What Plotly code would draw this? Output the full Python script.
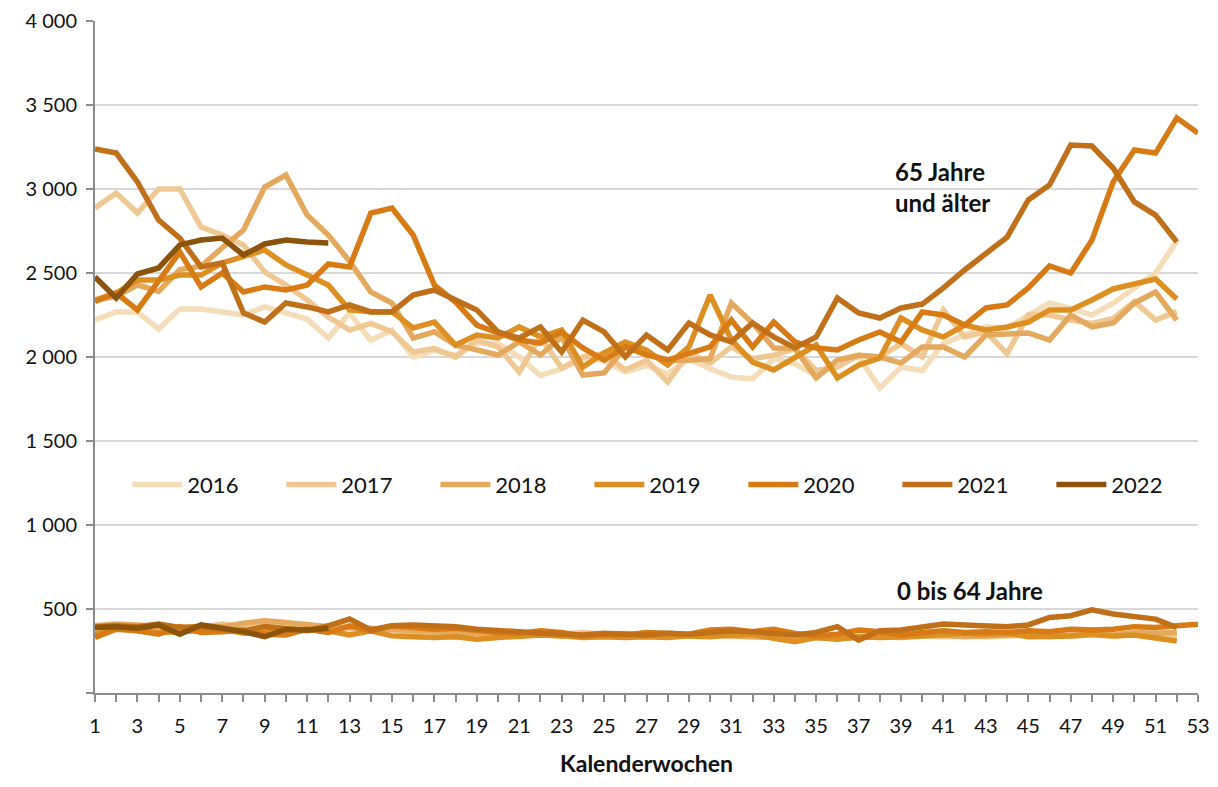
import plotly.graph_objects as go

weeks = list(range(1, 54))
years = ["2016", "2017", "2018", "2019", "2020", "2021", "2022"]
colors = ["#F5DDB8", "#F0C894", "#E5A95E", "#DE8F22", "#D97B14", "#C07018", "#8B530C"]

# 65 Jahre und älter
old_2016 = [2220, 2268, 2268, 2167, 2286, 2286, 2268, 2250, 2298, 2262, 2226, 2113, 2262, 2100, 2160, 2000, 2040, 2010, 2083, 2080, 2000, 1890, 1930, 1990, 1980, 1910, 1950, 1900, 1990, 1930, 1880, 1870, 1990, 1960, 1890, 1980, 2000, 1815, 1940, 1920, 2080, 2130, 2180, 2170, 2250, 2320, 2290, 2250, 2320, 2410, 2500, 2690]
old_2017 = [2887, 2976, 2857, 3000, 3000, 2774, 2726, 2667, 2506, 2428, 2339, 2238, 2160, 2200, 2150, 2030, 2050, 2000, 2100, 2060, 1911, 2120, 1934, 2000, 2020, 1923, 1980, 1851, 2024, 1964, 2060, 1990, 2010, 2050, 1920, 1940, 2010, 2000, 2080, 2000, 2280, 2120, 2150, 2020, 2250, 2250, 2220, 2200, 2230, 2330, 2220, 2270]
old_2018 = [2340, 2360, 2430, 2390, 2520, 2540, 2650, 2756, 3012, 3083, 2845, 2726, 2570, 2387, 2321, 2113, 2150, 2070, 2042, 2012, 2090, 2012, 2119, 1893, 1905, 2060, 2020, 1980, 1980, 1990, 2321, 2202, 2054, 2050, 1875, 1982, 2010, 2000, 1964, 2060, 2060, 2000, 2131, 2140, 2143, 2101, 2250, 2179, 2202, 2321, 2387, 2220]
old_2019 = [2339, 2380, 2458, 2458, 2488, 2488, 2560, 2595, 2637, 2548, 2488, 2428, 2280, 2270, 2270, 2173, 2208, 2071, 2131, 2113, 2179, 2120, 2160, 1940, 2024, 2089, 2040, 1952, 2060, 2369, 2101, 1970, 1923, 1994, 2071, 1875, 1952, 1994, 2232, 2161, 2119, 2190, 2161, 2179, 2208, 2280, 2280, 2339, 2405, 2435, 2464, 2345]
old_2020 = [2330, 2381, 2280, 2458, 2625, 2417, 2500, 2387, 2417, 2399, 2428, 2554, 2536, 2857, 2887, 2726, 2428, 2327, 2190, 2143, 2101, 2083, 2149, 2054, 1982, 2060, 2012, 1982, 2024, 2060, 2220, 2060, 2208, 2089, 2054, 2042, 2101, 2149, 2089, 2268, 2250, 2190, 2292, 2310, 2411, 2542, 2500, 2696, 3042, 3232, 3214, 3423, 3333]
old_2021 = [3238, 3214, 3042, 2815, 2708, 2536, 2560, 2262, 2208, 2321, 2298, 2268, 2310, 2268, 2268, 2369, 2399, 2339, 2280, 2149, 2113, 2179, 2030, 2220, 2149, 2000, 2131, 2042, 2202, 2131, 2090, 2202, 2120, 2054, 2119, 2351, 2262, 2232, 2292, 2315, 2411, 2518, 2619, 2714, 2935, 3024, 3262, 3256, 3125, 2923, 2845, 2685]
old_2022 = [2476, 2351, 2494, 2530, 2667, 2696, 2708, 2607, 2673, 2696, 2685, 2679]

# 0 bis 64 Jahre
young_2016 = [370, 385, 390, 380, 395, 380, 375, 385, 370, 380, 375, 370, 380, 375, 370, 365, 360, 360, 355, 350, 355, 350, 345, 350, 345, 345, 340, 345, 340, 345, 340, 345, 340, 335, 340, 335, 340, 345, 340, 345, 340, 345, 350, 345, 350, 345, 340, 345, 350, 355, 360, 350]
young_2017 = [395, 400, 390, 395, 370, 390, 410, 390, 400, 385, 390, 380, 390, 385, 370, 360, 365, 360, 355, 360, 350, 355, 350, 360, 350, 355, 345, 350, 345, 350, 345, 340, 345, 335, 340, 345, 335, 340, 345, 340, 335, 340, 335, 340, 345, 335, 340, 345, 340, 350, 345, 340]
young_2018 = [400, 410, 405, 395, 385, 400, 395, 415, 430, 420, 405, 395, 390, 385, 380, 375, 365, 360, 355, 350, 345, 350, 340, 345, 350, 340, 345, 335, 340, 345, 340, 335, 330, 335, 330, 325, 330, 335, 330, 340, 345, 335, 340, 345, 350, 340, 345, 350, 345, 360, 355, 360]
young_2019 = [350, 385, 370, 360, 365, 370, 380, 355, 360, 365, 375, 370, 345, 370, 340, 335, 330, 335, 320, 330, 335, 345, 340, 330, 335, 330, 335, 330, 340, 335, 345, 350, 325, 305, 330, 320, 335, 330, 335, 340, 350, 355, 350, 355, 335, 335, 340, 350, 340, 345, 330, 310]
young_2020 = [330, 380, 370, 350, 395, 360, 365, 375, 350, 345, 380, 360, 400, 370, 400, 390, 380, 385, 370, 360, 355, 370, 360, 340, 350, 345, 360, 355, 350, 375, 380, 365, 380, 355, 340, 350, 375, 365, 345, 360, 370, 360, 365, 360, 370, 365, 380, 375, 380, 395, 390, 400, 410]
young_2021 = [395, 400, 395, 410, 390, 395, 380, 370, 395, 385, 370, 400, 440, 375, 400, 405, 400, 395, 380, 375, 365, 355, 350, 345, 355, 350, 345, 355, 350, 360, 370, 365, 355, 345, 360, 395, 315, 370, 375, 390, 410, 405, 400, 395, 405, 450, 460, 495, 470, 455, 440, 390]
young_2022 = [390, 395, 385, 405, 350, 405, 385, 365, 335, 380, 375, 385]

old_series = [old_2016, old_2017, old_2018, old_2019, old_2020, old_2021, old_2022]
young_series = [young_2016, young_2017, young_2018, young_2019, young_2020, young_2021, young_2022]

y_ticks = [0, 500, 1000, 1500, 2000, 2500, 3000, 3500, 4000]
y_tick_text = ["", "500", "1 000", "1 500", "2 000", "2 500", "3 000", "3 500", "4 000"]
x_ticks = list(range(1, 54, 2))

FONT = "Lato"

fig = go.Figure()
for yr, col, ys in zip(years, colors, young_series):
    fig.add_trace(go.Scatter(x=weeks[:len(ys)], y=ys, mode="lines", name=yr,
                             line=dict(color=col, width=5.5), legendgroup=yr,
                             showlegend=False))
for yr, col, ys in zip(years, colors, old_series):
    fig.add_trace(go.Scatter(x=weeks[:len(ys)], y=ys, mode="lines", name=yr,
                             line=dict(color=col, width=5.5), legendgroup=yr,
                             showlegend=True))

fig.add_annotation(x=38.6, y=3010, xref="x", yref="y", text="<b>65 Jahre<br>und älter</b>",
                   showarrow=False, xanchor="left", yanchor="middle", align="left",
                   font=dict(family=FONT, size=24, color="#111111"))
fig.add_annotation(x=38.7, y=610, xref="x", yref="y", text="<b>0 bis 64 Jahre</b>",
                   showarrow=False, xanchor="left", yanchor="middle", align="left",
                   font=dict(family=FONT, size=24, color="#111111"))
# x-axis title
fig.add_annotation(x=0.5, y=0, xref="paper", yref="paper", text="<b>Kalenderwochen</b>",
                   showarrow=False, xanchor="center", yanchor="middle", yshift=-70,
                   borderpad=0, font=dict(family=FONT, size=23, color="#111111"))

fig.update_layout(
    width=1202, height=771,
    margin=dict(l=87, r=12, t=13, b=86, autoexpand=False),
    paper_bgcolor="white", plot_bgcolor="white",
    font=dict(family=FONT, size=19, color="#111111"),
    legend=dict(orientation="h", x=0.518, xanchor="center", y=0.31, yanchor="middle",
                font=dict(family=FONT, size=22, color="#111111"),
                entrywidth=89, entrywidthmode="pixels", bgcolor="rgba(0,0,0,0)",
                itemwidth=50),
    xaxis=dict(range=[1, 53], tickvals=x_ticks, ticktext=[str(v) for v in x_ticks],
               automargin=False,
               showgrid=False, zeroline=False, showline=True, linecolor="#8c8c8c", linewidth=2,
               ticks="outside", ticklen=7, tickcolor="#8c8c8c", tickwidth=1.5,
               minor=dict(dtick=1, tick0=1, ticks="outside", ticklen=7, tickcolor="#8c8c8c", tickwidth=1.5),
               tickfont=dict(family=FONT, size=20), ticklabelstandoff=7),
    yaxis=dict(range=[0, 4000], tickvals=y_ticks, ticktext=y_tick_text,
               automargin=False,
               showgrid=True, gridcolor="#d9d9d9", gridwidth=1.5, zeroline=False,
               showline=True, linecolor="#8c8c8c", linewidth=2,
               ticks="outside", ticklen=7, tickcolor="#8c8c8c", tickwidth=1.5,
               tickfont=dict(family=FONT, size=20), ticklabelstandoff=5),
)

fig.write_html("out.html")
